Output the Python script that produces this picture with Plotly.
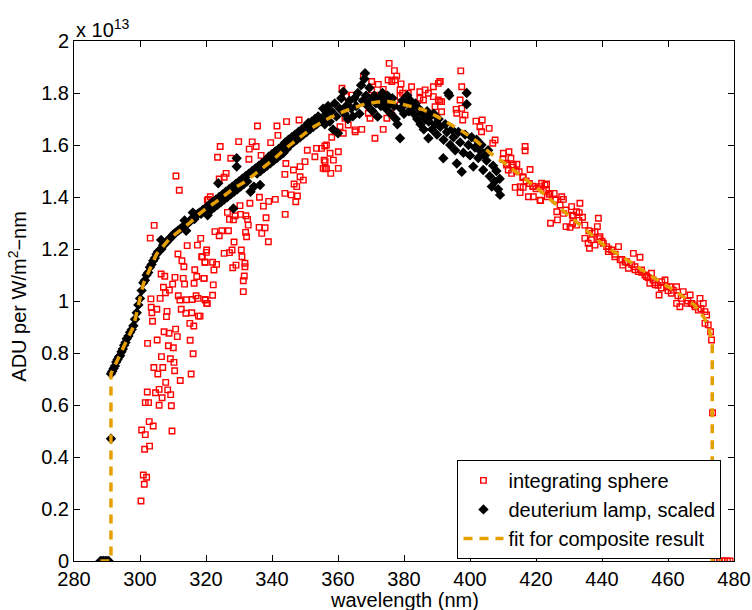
import plotly.graph_objects as go

SCALE_EXP = 13  # values below are in units of 1e13

# ---- integrating sphere (red open squares) ----
sphere_wl = [
    310.9, 311.9, 304.3, 303.1, 311.5, 314.3, 317.4, 318.4, 312.7, 313.3, 306.4, 307.5, 310.6, 313.1,
    316.6, 317.2, 319.4, 318.7, 320.1, 319.7, 307.1, 309.9, 313.5, 316.4, 308.9, 307.7, 303.3, 306.1,
    311.6, 312.1, 314.1, 315.8, 317.0, 317.6, 319.8, 320.2, 303.4, 305.1, 303.6, 308.2, 308.0, 312.5,
    313.9, 315.7, 317.7, 303.8, 315.1, 316.3, 307.3, 308.8, 310.8, 311.3, 302.3, 305.2, 308.6, 310.1,
    315.2, 306.5, 309.2, 310.3, 316.1, 304.2, 306.9, 305.4, 310.5, 315.5, 312.2, 307.8, 305.8, 304.7,
    308.4, 309.3, 306.7, 302.2, 301.6, 302.6, 305.8, 309.5, 302.8, 304.0, 300.5, 301.6, 309.7, 301.4,
    302.9, 301.0, 302.0, 301.3, 300.3, 320.7,
    335.6, 341.5, 344.4, 348.2, 329.9, 334.0, 324.3, 339.6, 323.5, 327.5, 333.1, 335.2, 341.8, 336.7,
    333.0, 326.1, 325.5, 324.0, 321.3, 320.4, 344.2, 346.5, 348.5, 350.0, 343.9, 350.7, 353.5, 356.0,
    353.0, 355.8, 356.1, 348.5, 349.5, 346.7, 347.5, 343.9, 345.8, 347.7, 347.2, 336.2, 339.0, 341.0,
    337.4, 338.2, 344.0, 333.3, 330.3, 326.5, 328.8, 330.5, 327.1, 328.3, 332.1, 332.6, 332.8, 336.1,
    336.9, 337.9, 338.9, 332.0, 332.3, 328.5, 322.7, 324.8, 326.8, 324.0, 320.2, 325.5, 327.1, 327.9,
    330.7, 330.9, 318.9, 319.7, 322.0, 323.2, 322.4, 328.1, 329.1, 331.8, 331.8, 331.3, 331.6, 319.4,
    322.2, 331.3, 319.7, 320.4, 322.0, 318.2,
    375.5, 377.1, 377.8, 377.3, 375.2, 376.3, 367.7, 370.2, 372.2, 373.7, 379.1, 378.8, 379.6, 382.3,
    381.3, 384.8, 386.4, 387.4, 388.9, 390.4, 390.9, 388.9, 390.4, 390.9, 391.4, 389.4, 384.8, 385.9,
    370.2, 371.2, 369.2, 369.7, 375.8, 376.3, 374.8, 373.7, 378.8, 378.8, 371.2, 361.2, 362.6, 364.1,
    362.1, 363.1, 365.2, 367.2, 360.6, 359.1, 358.1, 356.5, 355.0, 360.1, 358.6, 357.6, 356.1, 355.5,
    356.5, 357.8, 360.1, 365.2, 361.6,
    397.2, 397.5, 397.0, 395.8, 397.5, 398.5, 397.8, 396.0, 390.9, 391.4, 401.8, 403.7, 405.8, 403.0,
    403.5, 407.6, 406.9, 410.1, 411.8, 412.4, 413.1, 414.2, 411.1, 411.6, 412.6, 414.9, 416.1, 413.7,
    415.2, 416.1, 416.7, 416.7, 418.2, 415.2, 417.7, 419.2, 421.2, 419.2, 421.2, 422.7, 423.2, 423.4,
    410.0, 411.0, 413.0, 414.0, 416.0, 417.0, 418.0, 419.0, 420.0,
    421.7, 423.2, 422.2, 421.4, 424.2, 425.5, 425.8, 427.8, 428.3, 427.3, 426.3, 428.3, 430.8, 433.3,
    432.3, 433.1, 431.3, 434.1, 434.8, 424.4, 426.5, 429.1, 430.3, 431.1, 432.3, 438.9, 438.6, 437.9,
    434.8, 435.8, 436.8, 436.2, 437.9, 439.4, 440.4, 441.4, 441.9, 442.9, 445.0, 443.9, 445.5, 446.3,
    447.5, 448.0, 449.5, 451.5, 450.0, 451.0, 452.0, 453.5, 455.0, 455.5, 454.5, 456.1, 457.3, 458.1,
    459.1, 459.6, 460.6, 461.6, 462.6, 464.6, 462.6, 463.6, 465.7, 466.7, 467.2, 468.2, 469.7, 470.7,
    469.2, 471.2, 471.7, 471.2, 472.2, 472.9, 473.2,
    424.0, 426.0, 429.0, 431.0, 433.0, 436.0, 437.0, 439.0, 440.0, 442.0, 444.0, 446.0, 447.0, 449.0,
    450.0, 452.0, 453.0, 454.0, 456.0, 457.0, 458.0, 460.0, 461.0, 463.0, 464.0, 466.0, 467.0, 468.0,
    470.0,
    473.5, 474.0, 474.8, 475.6, 476.4, 477.2, 478.0, 478.8,
]
sphere_adu = [
    1.481, 1.426, 1.291, 1.242, 1.181, 1.213, 1.215, 1.241, 1.155, 1.132, 1.104, 1.095, 1.091, 1.087,
    1.120, 1.094, 1.087, 1.170, 1.187, 1.149, 1.053, 1.065, 1.065, 1.068, 1.042, 1.032, 1.008, 1.010,
    1.020, 1.004, 1.005, 1.006, 1.020, 1.010, 1.004, 0.991, 0.976, 0.968, 0.955, 0.960, 0.940, 0.968,
    0.953, 0.955, 0.942, 0.922, 0.914, 0.904, 0.882, 0.876, 0.892, 0.863, 0.837, 0.850, 0.828, 0.820,
    0.849, 0.786, 0.778, 0.764, 0.797, 0.744, 0.744, 0.719, 0.732, 0.719, 0.694, 0.687, 0.660, 0.647,
    0.658, 0.640, 0.628, 0.650, 0.609, 0.609, 0.599, 0.597, 0.536, 0.519, 0.504, 0.486, 0.500, 0.430,
    0.442, 0.331, 0.322, 0.295, 0.231, 1.391,
    1.673, 1.673, 1.690, 1.696, 1.613, 1.612, 1.594, 1.609, 1.553, 1.549, 1.584, 1.594, 1.637, 1.560,
    1.545, 1.491, 1.476, 1.469, 1.401, 1.388, 1.529, 1.504, 1.517, 1.536, 1.487, 1.580, 1.587, 1.596,
    1.555, 1.542, 1.508, 1.478, 1.465, 1.450, 1.440, 1.414, 1.408, 1.404, 1.382, 1.399, 1.383, 1.391,
    1.365, 1.320, 1.333, 1.376, 1.367, 1.341, 1.328, 1.333, 1.314, 1.312, 1.328, 1.314, 1.292, 1.283,
    1.260, 1.282, 1.228, 1.264, 1.247, 1.227, 1.267, 1.270, 1.270, 1.251, 1.196, 1.183, 1.186, 1.196,
    1.196, 1.170, 1.170, 1.149, 1.149, 1.141, 1.119, 1.128, 1.138, 1.145, 1.132, 1.078, 1.096, 1.087,
    1.062, 1.036, 1.006, 0.991, 1.022, 0.942,
    1.914, 1.886, 1.865, 1.850, 1.850, 1.844, 1.863, 1.844, 1.833, 1.814, 1.835, 1.812, 1.799, 1.824,
    1.799, 1.805, 1.812, 1.799, 1.824, 1.837, 1.844, 1.786, 1.773, 1.767, 1.728, 1.747, 1.780, 1.773,
    1.812, 1.792, 1.722, 1.703, 1.735, 1.715, 1.703, 1.660, 1.786, 1.754, 1.626, 1.818, 1.786, 1.792,
    1.703, 1.677, 1.658, 1.660, 1.670, 1.651, 1.630, 1.600, 1.587, 1.574, 1.542, 1.568, 1.536, 1.510,
    1.509, 1.491, 1.510, 1.651, 1.645,
    1.885, 1.824, 1.773, 1.737, 1.741, 1.715, 1.696, 1.722, 1.844, 1.767, 1.692, 1.696, 1.664, 1.670,
    1.651, 1.619, 1.607, 1.568, 1.574, 1.549, 1.523, 1.526, 1.523, 1.504, 1.491, 1.497, 1.478, 1.437,
    1.440, 1.437, 1.594, 1.578, 1.506, 1.417, 1.401, 1.401, 1.388, 1.440, 1.440, 1.446, 1.427, 1.401,
    1.545, 1.530, 1.515, 1.500, 1.475, 1.462, 1.452, 1.442, 1.432,
    1.453, 1.450, 1.427, 1.386, 1.414, 1.414, 1.388, 1.401, 1.391, 1.369, 1.343, 1.337, 1.363, 1.376,
    1.343, 1.340, 1.327, 1.322, 1.292, 1.299, 1.312, 1.286, 1.283, 1.299, 1.292, 1.318, 1.286, 1.267,
    1.241, 1.222, 1.235, 1.203, 1.215, 1.247, 1.222, 1.209, 1.190, 1.196, 1.209, 1.170, 1.158, 1.138,
    1.151, 1.126, 1.183, 1.168, 1.132, 1.113, 1.119, 1.094, 1.107, 1.081, 1.068, 1.062, 1.023, 1.074,
    1.081, 1.055, 1.055, 1.042, 1.055, 1.036, 0.991, 0.978, 0.991, 1.023, 0.991, 0.978, 1.010, 0.991,
    0.965, 0.959, 0.946, 0.914, 0.908, 0.882, 0.850,
    1.410, 1.390, 1.350, 1.330, 1.310, 1.270, 1.260, 1.240, 1.230, 1.200, 1.180, 1.160, 1.150, 1.140,
    1.120, 1.110, 1.100, 1.090, 1.070, 1.060, 1.050, 1.040, 1.030, 1.020, 1.010, 1.000, 0.990, 0.985,
    0.970,
    0.570, 0.0, 0.0, 0.0, 0.0, 0.0, 0.0, 0.0,
]

# ---- deuterium lamp, scaled (black diamonds) ----
lamp_wl = [
    288.0, 288.5, 289.0, 289.5, 290.0, 290.5, 291.2,
    291.2, 291.6, 292.0, 292.4, 292.8, 293.2, 293.6, 294.0, 294.4, 294.8, 295.2, 295.6, 296.0, 296.5,
    297.0, 297.5, 298.0, 298.5, 299.0, 299.5, 300.0, 300.5, 301.0, 301.5, 302.0, 302.5, 303.0, 303.5,
    304.0, 304.5, 305.0, 305.5, 306.0, 306.4, 306.5, 307.0, 307.5, 308.0, 308.5, 309.0, 309.5, 310.0,
    310.5, 311.0, 311.5, 312.0, 312.5, 313.0, 313.5, 313.5, 314.0, 314.0, 314.5, 315.0, 315.5, 316.0,
    316.0, 316.5, 317.0, 317.5, 318.0, 318.5, 319.0, 319.5,
    320.0, 320.5, 321.0, 321.5, 322.0, 322.5, 323.0, 323.5, 323.7, 324.0, 324.5, 325.0, 325.5, 326.0,
    326.5, 327.0, 327.5, 328.0, 328.3, 328.5, 329.0, 329.3, 329.3, 329.5, 330.0, 330.5, 331.0, 331.5,
    332.0, 332.5, 333.0, 333.5, 334.0, 334.5, 335.0, 335.5, 336.0, 336.4, 336.5, 337.0, 337.5, 338.0,
    338.5, 339.0, 339.5, 340.0, 340.5, 341.0, 341.5, 342.0, 342.5, 343.0, 343.5, 344.0, 344.5, 345.0,
    345.5, 346.0, 346.5, 347.0, 347.5, 348.0, 348.5, 349.0, 349.5, 350.0, 350.5, 351.0, 351.5, 352.0,
    352.5, 353.0, 353.5, 354.0, 354.5,
    355.0, 355.5, 356.0, 356.5, 357.0, 357.5, 358.0, 358.5, 359.0, 359.5, 360.0, 360.5, 361.0, 361.6,
    362.0, 362.5, 363.0, 363.5, 364.0, 364.5, 365.0, 365.5, 366.0, 366.5, 367.0, 367.5, 368.0, 368.2,
    368.5, 369.0, 369.5, 370.0, 370.5, 371.0, 371.5, 372.0, 372.5, 373.0, 373.5, 374.0, 374.5, 375.0,
    375.5, 376.0, 376.5, 377.0, 377.5, 378.0, 378.8, 379.0, 379.5, 380.0, 380.5, 381.0, 381.5, 382.0,
    382.5, 383.0, 383.5, 384.0, 384.5, 385.0, 385.5, 386.0, 386.5, 387.0, 387.4, 387.5, 388.0, 388.5,
    389.0, 389.5, 390.0, 390.5, 391.0, 391.9, 392.0, 392.5, 393.0, 393.4, 393.7, 394.0, 394.5, 395.0,
    395.5, 396.0, 396.5, 397.0, 397.5, 398.0, 398.5, 399.0, 399.0, 399.5, 400.0, 400.5, 401.0, 401.5,
    402.0, 402.5, 403.0, 403.5, 404.0, 404.5, 405.0, 405.5, 406.0, 406.6, 407.0, 407.5, 408.0, 408.5,
    409.1, 409.0,
]
lamp_adu = [
    0.0, 0.0, 0.0, 0.0, 0.0, 0.0, 0.47,
    0.720, 0.730, 0.740, 0.750, 0.765, 0.775, 0.785, 0.790, 0.805, 0.815, 0.830, 0.840, 0.855, 0.865,
    0.880, 0.890, 0.905, 0.930, 0.955, 0.985, 1.010, 1.040, 1.070, 1.080, 1.100, 1.110, 1.130, 1.140,
    1.155, 1.165, 1.180, 1.190, 1.195, 1.235, 1.200, 1.215, 1.220, 1.225, 1.235, 1.240, 1.245, 1.255,
    1.260, 1.265, 1.270, 1.275, 1.280, 1.285, 1.290, 1.310, 1.295, 1.270, 1.300, 1.305, 1.310, 1.320,
    1.340, 1.315, 1.330, 1.335, 1.340, 1.335, 1.350, 1.345,
    1.360, 1.330, 1.370, 1.350, 1.380, 1.360, 1.390, 1.370, 1.453, 1.400, 1.380, 1.410, 1.390, 1.420,
    1.400, 1.430, 1.410, 1.440, 1.356, 1.420, 1.450, 1.549, 1.517, 1.430, 1.460, 1.440, 1.470, 1.450,
    1.480, 1.460, 1.490, 1.420, 1.500, 1.440, 1.510, 1.490, 1.520, 1.446, 1.500, 1.530, 1.510, 1.540,
    1.520, 1.555, 1.530, 1.565, 1.540, 1.575, 1.550, 1.585, 1.560, 1.595, 1.570, 1.610, 1.585, 1.620,
    1.600, 1.630, 1.610, 1.640, 1.620, 1.650, 1.630, 1.660, 1.640, 1.670, 1.650, 1.685, 1.660, 1.690,
    1.670, 1.700, 1.680, 1.710, 1.690,
    1.700, 1.740, 1.680, 1.720, 1.750, 1.690, 1.730, 1.660, 1.760, 1.710, 1.645, 1.740, 1.780, 1.805,
    1.720, 1.750, 1.700, 1.770, 1.740, 1.710, 1.780, 1.750, 1.800, 1.720, 1.830, 1.770, 1.855, 1.876,
    1.790, 1.750, 1.820, 1.770, 1.730, 1.790, 1.760, 1.709, 1.780, 1.750, 1.800, 1.770, 1.740, 1.790,
    1.760, 1.720, 1.780, 1.750, 1.700, 1.680, 1.626, 1.740, 1.770, 1.720, 1.760, 1.790, 1.730, 1.770,
    1.750, 1.720, 1.760, 1.700, 1.740, 1.680, 1.720, 1.660, 1.700, 1.730, 1.626, 1.690, 1.710, 1.660,
    1.720, 1.680, 1.640, 1.700, 1.670, 1.549, 1.620, 1.680, 1.650, 1.800, 1.790, 1.600, 1.660, 1.630,
    1.580, 1.529, 1.650, 1.610, 1.497, 1.570, 1.640, 1.800, 1.757, 1.600, 1.560, 1.630, 1.517, 1.590,
    1.620, 1.550, 1.580, 1.600, 1.504, 1.560, 1.540, 1.580, 1.480, 1.440, 1.520, 1.460, 1.500, 1.430,
    1.408, 1.470,
]

# ---- fit for composite result (dashed orange) ----
fit_wl = [288.0, 291.2, 291.2, 292.0, 294.0, 296.0, 298.0, 299.0, 300.0, 301.0, 302.0, 303.0, 304.0,
          305.0, 307.0, 309.0, 311.0, 313.0, 315.0, 318.0, 320.0, 324.0, 328.0, 332.0, 336.0, 340.0,
          344.0, 348.0, 352.0, 356.0, 360.0, 364.0, 368.0, 372.0, 375.0, 378.0, 382.0, 386.0, 390.0,
          394.0, 398.0, 402.0, 406.0, 410.0, 415.0, 421.0, 428.0, 435.0, 441.0, 448.0, 455.0, 462.0,
          468.0, 471.0, 472.5, 473.4, 473.4, 476.0]
fit_adu = [0.0, 0.0, 0.720, 0.740, 0.795, 0.850, 0.900, 0.955, 1.015, 1.065, 1.095, 1.125, 1.155,
           1.180, 1.210, 1.240, 1.260, 1.280, 1.300, 1.335, 1.355, 1.390, 1.430, 1.460, 1.500, 1.540,
           1.585, 1.625, 1.665, 1.695, 1.720, 1.740, 1.757, 1.765, 1.767, 1.762, 1.750, 1.735, 1.710,
           1.680, 1.650, 1.615, 1.570, 1.535, 1.485, 1.427, 1.350, 1.273, 1.210, 1.155, 1.095, 1.040,
           0.985, 0.935, 0.890, 0.840, 0.0, 0.0]

x_ticks = [280, 300, 320, 340, 360, 380, 400, 420, 440, 460, 480]
y_ticks = [0, 0.2, 0.4, 0.6, 0.8, 1.0, 1.2, 1.4, 1.6, 1.8, 2.0]
y_tick_text = ["0", "0.2", "0.4", "0.6", "0.8", "1", "1.2", "1.4", "1.6", "1.8", "2"]

FONT = "Liberation Sans, Arial, Helvetica, sans-serif"
FS = 20
ORANGE = "#E69F00"

fig = go.Figure()
fig.add_trace(go.Scatter(
    x=sphere_wl, y=sphere_adu, mode="markers", name="integrating sphere",
    marker=dict(symbol="square-open", size=5.5, color="#FF0000", line=dict(width=1.4, color="#FF0000")),
))
fig.add_trace(go.Scatter(
    x=lamp_wl, y=lamp_adu, mode="markers", name="deuterium lamp, scaled",
    marker=dict(symbol="diamond", size=8, color="black", line=dict(width=0)),
))
fig.add_trace(go.Scatter(
    x=fit_wl, y=fit_adu, mode="lines", name="fit for composite result",
    line=dict(color=ORANGE, width=3.5, dash="9px,7px"),
))

axis_common = dict(
    showline=True, linecolor="black", linewidth=1, mirror="ticks",
    ticks="inside", ticklen=6, tickwidth=1, tickcolor="black",
    showgrid=False, zeroline=False, automargin=False,
    tickfont=dict(family=FONT, size=FS, color="black"),
)

fig.update_layout(
    width=752, height=610, autosize=False,
    margin=dict(l=74, r=18, t=41, b=49, pad=0),
    paper_bgcolor="white", plot_bgcolor="white",
    font=dict(family=FONT, size=FS, color="black"),
    xaxis=dict(range=[280, 480], tickvals=x_ticks, ticktext=[str(v) for v in x_ticks], **axis_common),
    yaxis=dict(range=[0, 2], tickvals=y_ticks, ticktext=y_tick_text, **axis_common),
    legend=dict(
        x=0.581, y=0.004, xanchor="left", yanchor="bottom",
        bgcolor="white", bordercolor="black", borderwidth=1,
        font=dict(family=FONT, size=FS, color="black"),
        tracegroupgap=0, itemwidth=40,
    ),
    showlegend=True,
    annotations=[
        dict(text="x 10<sup>%d</sup>" % SCALE_EXP, xref="paper", yref="paper", x=0, y=1,
             xanchor="left", yanchor="bottom", showarrow=False, yshift=-2,
             font=dict(family=FONT, size=FS, color="black")),
        dict(text="wavelength (nm)", xref="paper", yref="paper", x=0.5, y=-0.075,
             xanchor="center", yanchor="middle", showarrow=False,
             font=dict(family=FONT, size=FS, color="black")),
        dict(text="ADU per W/m<sup>2</sup>−nm", xref="paper", yref="paper", x=-0.085, y=0.51,
             xanchor="center", yanchor="middle", showarrow=False, textangle=-90,
             font=dict(family=FONT, size=FS, color="black")),
    ],
)

fig.write_html(
    "out.html",
    config={"displayModeBar": False, "responsive": False},
    post_script="document.body.style.margin='0';document.body.style.overflow='hidden';",
)
